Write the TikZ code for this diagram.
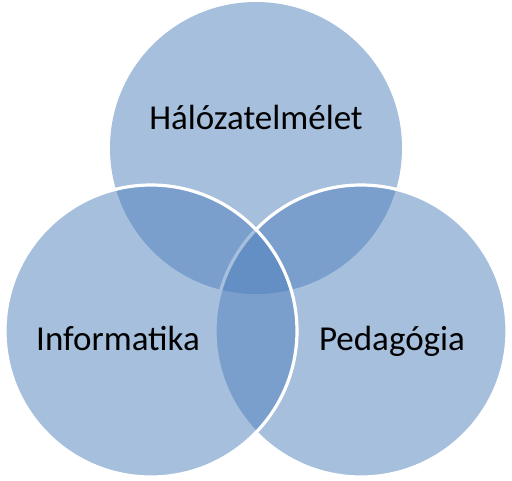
\documentclass[tikz,border=0pt]{standalone}
\usepackage{fontspec}
\setmainfont{Carlito}
\definecolor{accent}{RGB}{79,129,189}
\definecolor{txt}{RGB}{0,0,0}
\begin{document}
\begin{tikzpicture}[x=1pt,y=-1pt,
  venn/.style={circle,minimum size=292pt,inner sep=0pt,fill=accent,fill opacity=0.5,draw=white,draw opacity=1,line width=3.2pt},
  lbl/.style={font=\fontsize{35}{40}\selectfont,text=txt,text opacity=1,anchor=base,inner sep=0pt}]
\useasboundingbox[fill=white] (0,0) rectangle (512,480);
\node[venn,draw=none] (top) at (256,148) {};
\node[venn] (right) at (361,331) {};
\node[venn] (left) at (151,331) {};
\node[lbl] (t1) at (256,129) {Hálózatelmélet};
\node[lbl] (t2) at (118,350) {Informatika};
\node[lbl] (t3) at (392,350) {Pedagógia};
\end{tikzpicture}
\end{document}
